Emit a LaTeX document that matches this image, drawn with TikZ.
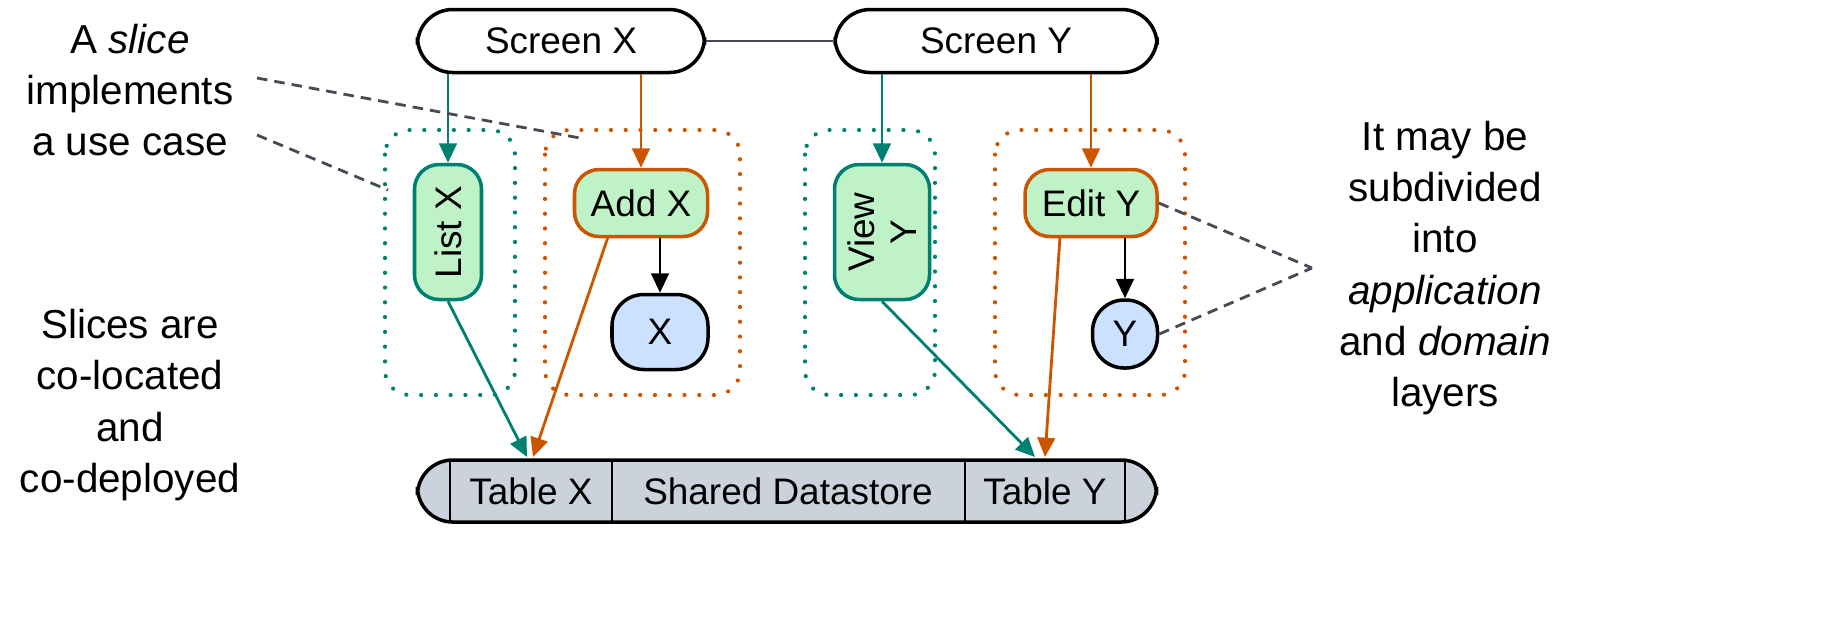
\documentclass[tikz,border=0pt]{standalone}
\usepackage{fontspec}
\setmainfont{Liberation Sans}
\usetikzlibrary{arrows.meta}
\definecolor{slteal}{RGB}{0,128,112}
\definecolor{slorange}{RGB}{204,85,0}
\definecolor{slgreen}{RGB}{192,242,200}
\definecolor{slblue}{RGB}{204,224,255}
\definecolor{slgray}{RGB}{203,210,220}
\definecolor{sldash}{RGB}{70,75,85}
\tikzset{
  screen/.style={draw,line width=1pt,rounded corners=10pt,fill=white,minimum height=63*0.01cm},
  usecase/.style={draw,line width=1pt,rounded corners=7pt,fill=slgreen},
  entity/.style={draw,line width=1pt,rounded corners=9pt,fill=slblue},
  slicebox/.style={line width=1.2pt,dash pattern=on 0pt off 4.2pt,line cap=round,rounded corners=7pt},
  flow/.style={-{Triangle[length=5.5pt,width=5pt]},line width=0.8pt},
  note/.style={sldash,dash pattern=on 3pt off 2pt,line width=0.8pt},
  txt/.style={align=center,font=\fontsize{11.5}{14.6}\selectfont},
}
\begin{document}
\begin{tikzpicture}[x=0.01cm,y=-0.01cm,font=\fontsize{10.5}{12}\selectfont]
  \useasboundingbox (0,0) rectangle (1830,626);
  % Slice boxes
  \draw[slicebox,slteal] (385,130) rectangle (515,395);
  \draw[slicebox,slorange] (545,130) rectangle (740,395);
  \draw[slicebox,slteal] (805,130) rectangle (935,395);
  \draw[slicebox,slorange] (995,130) rectangle (1185,395);
  % Screens
  \node[screen,minimum width=287*0.01cm] (scrX) at (561,41) {Screen X};
  \node[screen,minimum width=322*0.01cm] (scrY) at (996,41) {Screen Y};
  \draw[line width=0.8pt,sldash] (scrX) -- (scrY);
  % Use cases
  \node[usecase,draw=slteal,minimum width=135*0.01cm,minimum height=67*0.01cm,rotate=90] (listX) at (448,232) {List X};
  \node[usecase,draw=slorange,minimum width=133*0.01cm,minimum height=67*0.01cm] (addX) at (641,203) {Add X};
  \node[usecase,draw=slteal,minimum width=135*0.01cm,minimum height=95*0.01cm,rotate=90,align=center] (viewY) at (882,232) {View\\Y};
  \node[usecase,draw=slorange,minimum width=132*0.01cm,minimum height=67*0.01cm] (editY) at (1091,203) {Edit Y};
  % Domain
  \node[entity,minimum width=96*0.01cm,minimum height=75*0.01cm] (domX) at (660,332) {X};
  \node[entity,minimum width=65*0.01cm,minimum height=68*0.01cm] (domY) at (1125,334) {Y};
  % Datastore
  \node[draw,line width=1pt,fill=slgray,rounded corners=10pt,minimum width=739*0.01cm,minimum height=62*0.01cm] (store) at (787,491) {};
  \foreach \xx in {450,612,965,1125}
    \draw[line width=0.8pt] (\xx,460) -- (\xx,522);
  \node (tabX) at (531,491) {Table X};
  \node (shared) at (788,491) {Shared Datastore};
  \node (tabY) at (1045,491) {Table Y};
  \coordinate (inX1) at (527,457);
  \coordinate (inX2) at (533,457);
  \coordinate (inY1) at (1035,457);
  \coordinate (inY2) at (1045,457);
  % Flows
  \draw[flow,slteal] (scrX.south -| listX) -- (listX.east);
  \draw[flow,slorange] (scrX.south -| addX) -- (addX.north);
  \draw[flow,slteal] (scrY.south -| viewY) -- (viewY.east);
  \draw[flow,slorange] (scrY.south -| editY) -- (editY.north);
  \draw[flow] (addX.south -| domX) -- (domX.north);
  \draw[flow] (editY.south -| domY) -- (domY.north);
  \draw[flow,slteal] (listX.west) -- (inX1);
  \draw[flow,slorange] (608,237) -- (inX2);
  \draw[flow,slteal] (viewY.west) -- (inY1);
  \draw[flow,slorange] (1060,237) -- (inY2);
  % Notes
  \node[txt] (noteSlice) at (130,90) {A \emph{slice}\\implements\\a use case};
  \node[txt] (noteCo) at (130,405) {Slices are\\co-located\\and\\co-deployed};
  \node[txt] (noteSub) at (1445,268) {It may be\\subdivided\\into\\\emph{application}\\and \emph{domain}\\layers};
  \coordinate (tipR) at (1312,268);
  \draw[note] (257,78) -- (580,138);
  \draw[note] (257,135) -- (388,190);
  \draw[note] (editY.east) -- (tipR);
  \draw[note] (domY.east) -- (tipR);
\end{tikzpicture}
\end{document}
